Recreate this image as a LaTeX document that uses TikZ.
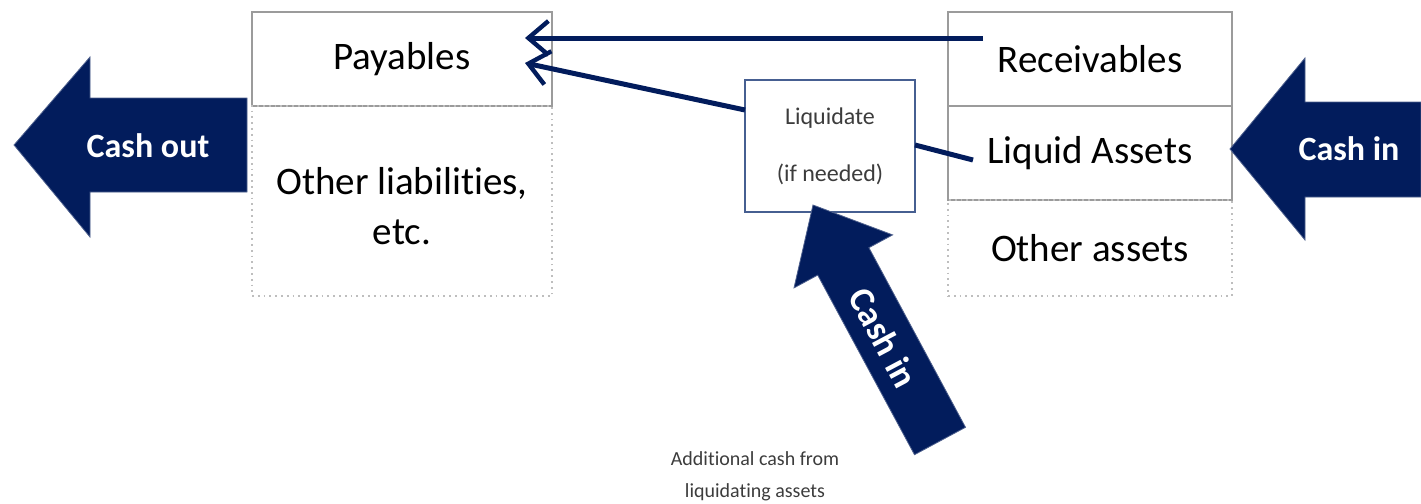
\documentclass[tikz,border=0pt]{standalone}
\usepackage{fontspec}
\setmainfont{Carlito}[Ligatures={NoCommon}]
\usetikzlibrary{arrows.meta}
\definecolor{navy}{RGB}{2,28,92}
\definecolor{boxgray}{RGB}{155,155,155}
\definecolor{dotgray}{RGB}{190,190,190}
\definecolor{liqblue}{RGB}{70,95,145}
\definecolor{captext}{RGB}{60,60,60}
\tikzset{
  solidbox/.style={draw=boxgray, line width=1pt, minimum width=#1, inner sep=0pt, font=\fontsize{19.5}{25}\selectfont, text=black},
  dotbox/.style={draw=dotgray, line width=0.9pt, dotted, minimum width=#1, inner sep=0pt},
  boxtext/.style={font=\fontsize{19.5}{25}\selectfont, align=center, text=black},
  bigarrow/.style={fill=navy, draw=navy!70, line width=0.4pt},
  arrowtext/.style={font=\fontsize{17}{20}\selectfont\bfseries, text=white},
  conn/.style={draw=navy, line width=2.5pt, line cap=butt},
  connarrow/.style={conn, -{Straight Barb[length=10pt, width=17pt, line width=2.2pt]}},
}
\begin{document}
\begin{tikzpicture}[x=0.5pt, y=-0.5pt]
\useasboundingbox (0,0) rectangle (1421,504);

% left column
\node[solidbox=150pt, minimum height=47pt] (pay) at (402,59) {Payables};
\node[dotbox=150pt, minimum height=95pt] (othl) at (402,201) {};
\node[boxtext] (othlt) at (402,206) {Other liabilities,\\etc.};

% right column
\node[solidbox=142pt, minimum height=47pt] (rec) at (1090,59) {Receivables};
\node[solidbox=142pt, minimum height=47pt] (liq) at (1090,153) {Liquid Assets};
\node[dotbox=142pt, minimum height=48pt] (otha) at (1090,248) {};
\node[boxtext] (othat) at (1090,248) {Other assets};

% liquidate box
\node[draw=liqblue, line width=1.3pt, minimum width=85pt, minimum height=66pt, inner sep=0pt,
      align=center, font=\fontsize{12}{28.5}\selectfont, text=captext] (liqd) at (830,146)
      {Liquidate\\(if needed)};

% connectors
\coordinate (r1) at (983,38);
\coordinate (p1) at (525,38);
\coordinate (p2) at (525,63);
\coordinate (l1) at (745,110);
\coordinate (l2) at (915,145);
\coordinate (la) at (973,160);
\draw[connarrow] (r1) -- (p1);
\draw[connarrow] (l1) -- (p2);
\draw[conn] (l2) -- (la);

% cash out arrow
\path[bigarrow] (14,145) -- (90,57) -- (90,98) -- (247,98) -- (247,192) -- (90,192) -- (90,237) -- cycle;
\node[arrowtext] (cashout) at (148,146) {Cash out};

% cash in arrow (right)
\path[bigarrow] (1230,149) -- (1305,58) -- (1305,102) -- (1421,102) -- (1421,197) -- (1305,197) -- (1305,240) -- cycle;
\node[arrowtext] (cashin) at (1349,149) {Cash in};

% diagonal cash in arrow
\path[bigarrow] (813,205) -- (892.6,234.9) -- (868.9,247.7) -- (965.5,427.3) -- (914.5,454.7) -- (817.7,275.1) -- (794,287.9) -- cycle;
\node[arrowtext, font=\fontsize{18}{20}\selectfont\bfseries, rotate=-62] (cashin2) at (884,338) {Cash in};

% caption
\node[align=center, font=\fontsize{10}{16}\selectfont, text=captext] (cap) at (755,476)
  {Additional cash from\\liquidating assets};
\end{tikzpicture}
\end{document}
